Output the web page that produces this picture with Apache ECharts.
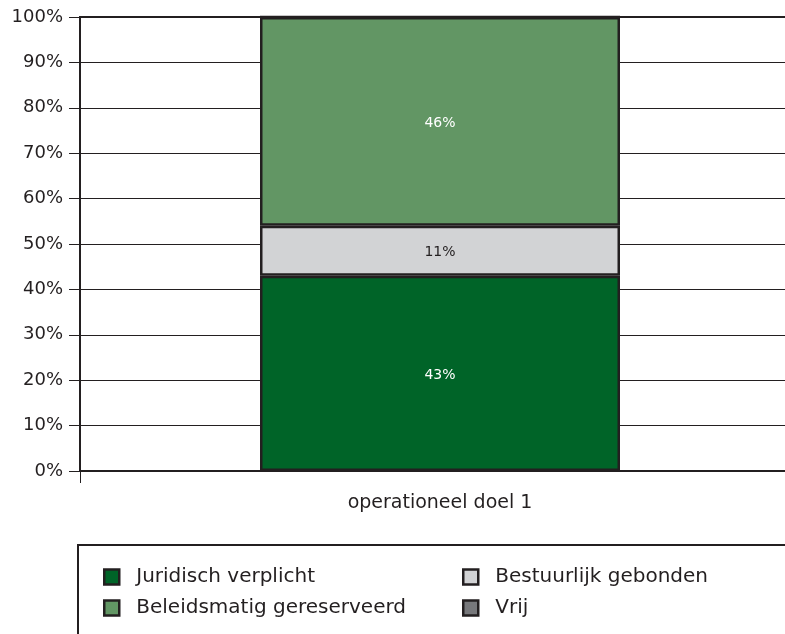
<!DOCTYPE html>
<html>
<head>
<meta charset="utf-8">
<script src="https://cdn.jsdelivr.net/npm/echarts@6/dist/echarts.min.js"></script>
<style>html,body{margin:0;padding:0;background:#fff}#c{width:785px;height:634px}</style>
</head>
<body>
<div id="c"></div>
<script>
var categories = ['operationeel doel 1'];
var seriesNames = ['Juridisch verplicht', 'Bestuurlijk gebonden', 'Beleidsmatig gereserveerd', 'Vrij'];
var juridisch = [43];
var bestuurlijk = [11];
var beleidsmatig = [46];
var vrij = [0];
var colors = ['#006428', '#d2d3d5', '#629664', '#77787b'];
var labelColors = ['#ffffff', '#231f20', '#ffffff', '#ffffff'];
var values = [juridisch, bestuurlijk, beleidsmatig, vrij];

var ink = '#231f20';
var font = 'DejaVu Sans';

var chart = echarts.init(document.getElementById('c'));
var series = seriesNames.map(function (n, i) {
  return {
    name: n,
    type: 'bar',
    stack: 'total',
    barWidth: '50%',
    data: values[i],
    itemStyle: { color: colors[i], borderColor: ink, borderWidth: 2.5 },
    label: {
      show: i < 3,
      position: 'inside',
      formatter: '{c}%',
      color: labelColors[i],
      fontFamily: font,
      fontSize: 14,
      offset: [0, 2]
    },
    emphasis: { disabled: true }
  };
});

var legendCommon = {
  orient: 'vertical',
  top: 562,
  itemWidth: 15,
  itemHeight: 15,
  itemGap: 11,
  icon: 'rect',
  itemStyle: { borderColor: ink, borderWidth: 2.5 },
  textStyle: { fontFamily: font, fontSize: 20, color: ink, lineHeight: 20, padding: [0, 0, 0, 12] },
  selectedMode: false
};

chart.setOption({
  animation: false,
  color: colors,
  grid: {
    left: 80, top: 17, height: 454, width: 720,
    outerBoundsMode: 'none',
    containLabel: false,
    show: true, borderColor: ink, borderWidth: 2, backgroundColor: 'transparent'
  },
  xAxis: {
    type: 'category',
    data: categories,
    axisLine: { show: true, lineStyle: { color: ink, width: 2 } },
    axisTick: { show: true, length: 12, lineStyle: { color: ink, width: 1 } },
    axisLabel: { fontFamily: font, fontSize: 19, color: ink, margin: 23 }
  },
  yAxis: {
    type: 'value',
    min: 0, max: 100, interval: 10,
    axisLine: { show: true, lineStyle: { color: ink, width: 2 } },
    axisTick: { show: true, length: 11, lineStyle: { color: ink, width: 1 } },
    axisLabel: { formatter: '{value}%', fontFamily: font, fontSize: 18, color: ink, margin: 17 },
    splitLine: { show: true, lineStyle: { color: ink, width: 1 } }
  },
  legend: [
    Object.assign({}, legendCommon, { left: 98, data: [seriesNames[0], seriesNames[2]] }),
    Object.assign({}, legendCommon, { left: 457, data: [seriesNames[1], seriesNames[3]] })
  ],
  graphic: [{
    type: 'rect',
    shape: { x: 78, y: 545, width: 800, height: 200 },
    style: { fill: 'none', stroke: ink, lineWidth: 2 },
    silent: true
  }],
  series: series
});
</script>
</body>
</html>
